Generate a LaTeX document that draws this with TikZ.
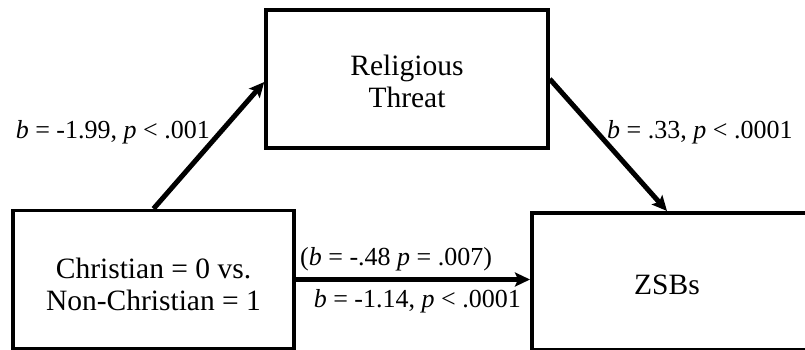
\documentclass[tikz,border=0pt]{standalone}
\usepackage{fontspec}
\setmainfont{Liberation Serif}
\usetikzlibrary{arrows.meta,calc}
\begin{document}
\begin{tikzpicture}[x=1pt,y=-1pt,
  box/.style={draw,line width=3.5pt,inner sep=0pt},
  txt/.style={align=center,font=\fontsize{29.5}{32}\selectfont,inner sep=0pt},
  conn/.style={line width=5pt,-{Stealth[length=15pt,width=14pt,inset=3pt]}},
  lab/.style={font=\fontsize{26}{28}\selectfont,inner sep=0pt}]
\useasboundingbox (0,0) rectangle (805,350);
\clip (0,0) rectangle (805,350);
\node[box,minimum width=282pt,minimum height=138pt] (r) at (407,79) {};
\node[txt] (rt) at ($(r.center)+(0,2)$) {Religious\\Threat};
\node[box,minimum width=281pt,minimum height=138pt] (c) at (153.5,279.5) {};
\node[txt] (ct) at ($(c.center)+(0,5)$) {Christian = 0 vs.\\Non-Christian = 1};
\node[box,minimum width=300pt,minimum height=137pt,anchor=north west] (z) at (530,211) {};
\coordinate (zin) at ($(z.north west)+(137,0)$);
\node[txt] (zt) at ($(zin)+(0,74)$) {ZSBs};
\draw[conn] (c.north) -- ([yshift=-3pt]r.west);
\draw[conn] (r.east) -- (zin);
\draw[conn] (c.east) -- (c.east -| z.west);
\node[lab,anchor=east] (l1) at (210,132) {\textit{b} = -1.99, \textit{p} < .001};
\node[lab,anchor=west] (l2) at (607,132) {\textit{b} = .33, \textit{p} < .0001};
\node[lab,anchor=west] (l3) at (300,259) {(\textit{b} = -.48 \textit{p} = .007)};
\node[lab,anchor=east] (l4) at (521,301) {\textit{b} = -1.14, \textit{p} < .0001};
\end{tikzpicture}
\end{document}
